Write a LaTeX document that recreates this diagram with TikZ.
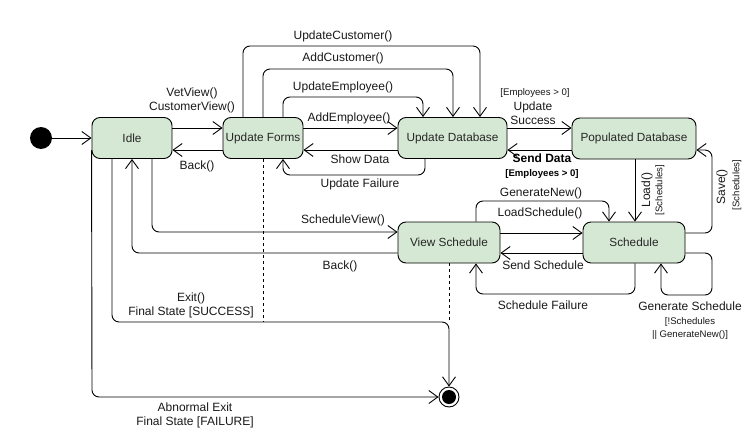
\documentclass[tikz,border=0pt]{standalone}
\usepackage{fontspec}
\setmainfont{Liberation Sans}
\usetikzlibrary{arrows.meta}
\definecolor{stfill}{HTML}{D5E8D4}
\begin{document}
\begin{tikzpicture}[x=1pt,y=-1pt,
  state/.style={draw=black, fill=stfill, rounded corners=8pt, line width=0.9pt,
    minimum height=41pt, font=\fontsize{11.8}{13}\selectfont, text=black!85, inner sep=0pt},
  tr/.style={draw, line width=0.9pt, -{Straight Barb[length=9pt,width=13pt]}, rounded corners=7pt},
  dashline/.style={draw, line width=0.8pt, dashed},
  lbl/.style={font=\fontsize{12}{14}\selectfont, text=black!90, inner sep=1pt, align=center},
  sml/.style={font=\fontsize{9.6}{13}\selectfont, text=black!90, inner sep=1pt, align=center},
  bld/.style={font=\fontsize{12}{14}\selectfont\bfseries, text=black, inner sep=1pt, align=center},
  smlb/.style={font=\fontsize{9.6}{12}\selectfont\bfseries, text=black, inner sep=1pt, align=center}
]
\useasboundingbox[fill=white] (0,0) rectangle (745,431);

% states
\node[circle, fill=black, minimum size=22pt, inner sep=0pt] (init) at (41,138) {};
\node[state, minimum width=80pt] (idle) at (132,138) {Idle};
\node[state, minimum width=80pt] (uf) at (263,138) {Update Forms};
\node[state, minimum width=109pt] (ud) at (452.5,138) {Update Database};
\node[state, minimum width=124pt] (pd) at (634,138.5) {Populated Database};
\node[state, minimum width=102pt] (vs) at (449,242.5) {View Schedule};
\node[state, minimum width=102pt] (sc) at (634,242.5) {Schedule};
\node[circle, draw=black, fill=white, line width=0.9pt, minimum size=20pt, inner sep=0pt] (fin) at (449,397) {};
\node[circle, fill=black, minimum size=14pt, inner sep=0pt] (fincore) at (fin) {};

% transitions
\draw[tr] (init) -- (idle);
\draw[tr] (idle.east |- 0,128) -- (uf.west |- 0,128);
\draw[tr] (uf.west |- 0,150) -- (idle.east |- 0,150);
\draw[tr] (uf.east |- 0,128) -- (ud.west |- 0,128);
\draw[tr] (ud.west |- 0,150) -- (uf.east |- 0,150);
\draw[tr] (425,0 |- ud.south) -- (425,175) -- (283,175) -- (283,0 |- uf.south);
\draw[tr] (283,0 |- uf.north) -- (283,97) -- (423,97) -- (423,0 |- ud.north);
\draw[tr] (263,0 |- uf.north) -- (263,69) -- (453,69) -- (453,0 |- ud.north);
\draw[tr] (243,0 |- uf.north) -- (243,46) -- (480,46) -- (480,0 |- ud.north);
\draw[tr] (ud.east |- 0,128) -- (pd.west |- 0,128);
\draw[tr] (pd.west |- 0,150) -- (ud.east |- 0,150);
\draw[tr] (635,0 |- pd.south) -- (635,0 |- sc.north);
\draw[tr] (sc.east |- 0,233) -- (712,233) -- (712,150) -- (pd.east |- 0,150);
\draw[tr] (476,0 |- vs.north) -- (476,201) -- (609,201) -- (609,0 |- sc.north);
\draw[tr] (vs.east |- 0,233) -- (sc.west |- 0,233);
\draw[tr] (sc.west |- 0,253) -- (vs.east |- 0,253);
\draw[tr] (635,0 |- sc.south) -- (635,294) -- (476,294) -- (476,0 |- vs.south);
\draw[tr] (sc.east |- 0,253) -- (712,253) -- (712,295) -- (661,295) -- (661,0 |- sc.south);
\draw[tr] (152,0 |- idle.south) -- (152,232) -- (vs.west |- 0,232);
\draw[tr] (vs.west |- 0,253) -- (132,253) -- (132,0 |- idle.south);
\draw[tr] (112,0 |- idle.south) -- (112,322) -- (449,322) -- (fin.north);
\draw[tr] (idle.west |- 0,150) -- (92,397) -- (fin.west);
\draw[dashline] (uf.south) -- (263,322);
\draw[dashline] (vs.south) -- (449,322);

% labels
\node[lbl] (lvet) at (192,100) {VetView()\\CustomerView()};
\node[lbl] (lback1) at (197,166) {Back()};
\node[lbl] (lupc) at (343,36) {UpdateCustomer()};
\node[lbl] (laddc) at (343,58) {AddCustomer()};
\node[lbl] (lupe) at (343,87) {UpdateEmployee()};
\node[lbl] (ladde) at (349,118) {AddEmployee()};
\node[lbl] (lshow) at (360,159) {Show Data};
\node[lbl] (lfail) at (360,184) {Update Failure};
\node[sml] (lemp1) at (535,93) {[Employees > 0]};
\node[lbl] (lsucc) at (533,113) {Update\\Success};
\node[bld] (lsend) at (542,158) {Send Data};
\node[smlb] (lemp2) at (542,174) {[Employees > 0]};
\node[lbl] (lgen) at (541,193) {GenerateNew()};
\node[lbl] (lload) at (540,213) {LoadSchedule()};
\node[lbl] (lsview) at (343,220) {ScheduleView()};
\node[lbl] (lback2) at (340,266) {Back()};
\node[lbl] (lsends) at (543,265) {Send Schedule};
\node[lbl] (lsfail) at (543,305) {Schedule Failure};
\node[lbl] (lgens) at (690,306) {Generate Schedule};
\node[sml] (lcond) at (690,329) {[!Schedules\\{|}{|} GenerateNew()]};
\node[lbl] (lexit) at (191,305) {Exit()\\Final State [SUCCESS]};
\node[lbl] (labn) at (195,415) {Abnormal Exit\\Final State [FAILURE]};
\node[lbl, rotate=90] (lloadf) at (647,190) {Load()};
\node[sml, rotate=90] (lloads) at (660,190) {[Schedules]};
\node[lbl, rotate=90] (lsave) at (722,187) {Save()};
\node[sml, rotate=90] (lsaves) at (737,185) {[Schedules]};
\end{tikzpicture}
\end{document}
